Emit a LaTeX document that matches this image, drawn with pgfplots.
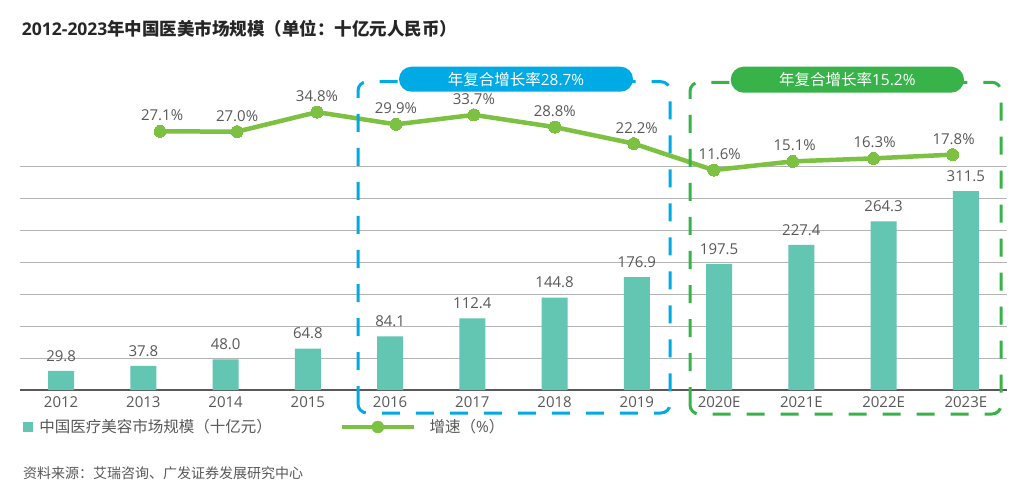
\documentclass[border=0pt]{standalone}
\usepackage{fontspec}
\setmainfont{Open Sans}
\newfontfamily\cjk{Noto Sans CJK SC}
\usepackage{pgfplots}
\pgfplotsset{compat=1.18}

\definecolor{barcol}{HTML}{62C6B2}
\definecolor{linecol}{HTML}{7DC143}
\definecolor{bluebox}{HTML}{00AAE4}
\definecolor{greenbox}{HTML}{38B34A}
\definecolor{txt}{HTML}{595959}
\definecolor{titlec}{HTML}{262626}
\definecolor{gridc}{HTML}{B4B4B4}
\definecolor{basec}{HTML}{595959}

\newcommand{\fs}[1]{\fontsize{#1}{#1}\selectfont}

\begin{document}
\begin{tikzpicture}
\path[use as bounding box] (0,0) rectangle (1024pt,493pt);
\fill[white] (0,0) rectangle (1024pt,493pt);

% market size (bars)
\begin{axis}[
  at={(20pt,103pt)}, anchor=south west,
  scale only axis, width=987pt, height=290pt,
  xmin=-0.5, xmax=11.5, ymin=0, ymax=454.5,
  clip=false,
  axis x line*=bottom, axis y line*=left,
  x axis line style={-, draw=basec, line width=2pt},
  y axis line style={draw=none},
  xtick={0,...,11},
  xticklabels={2012,2013,2014,2015,2016,2017,2018,2019,2020E,2021E,2022E,2023E},
  xticklabel style={anchor=base, yshift=-17pt, font=\fs{15pt}, text=txt},
  ytick={50,100,...,350}, yticklabels={},
  major tick length=0pt,
  ymajorgrids, grid style={gridc, line width=1pt},
  /pgf/number format/assume math mode=true,
  legend columns=2,
  legend cell align=left,
  legend style={at={(0.00334,-0.1276)}, anchor=west, draw=none, fill=none,
    font=\fs{15.5pt}, text=txt, inner sep=0pt,
    nodes={inner xsep=0pt, inner ysep=2pt},
    /tikz/every even column/.append style={column sep=68pt}},
]
\addplot[ybar, bar width=26pt, fill=barcol, draw=none,
  nodes near coords={\pgfmathprintnumber[fixed,fixed zerofill,precision=1]{\pgfplotspointmeta}},
  nodes near coords style={font=\fs{15pt}, text=txt, yshift=6pt},
  legend image code/.code={\fill[barcol] (0pt,-5pt) rectangle (10pt,5pt);}]
  coordinates {
  (0,29.8) (1,37.8) (2,48.0) (3,64.8) (4,84.1) (5,112.4)
  (6,144.8) (7,176.9) (8,197.5) (9,227.4) (10,264.3) (11,311.5)
};
\addlegendentry{\hspace{6pt}{\cjk 中国医疗美容市场规模（十亿元）}}
\addlegendimage{legend image code/.code={
  \draw[linecol, line width=4pt] (0pt,0pt) -- (71.6pt,0pt);
  \fill[linecol] (35.8pt,0pt) circle (6pt);}}
\addlegendentry{\hspace{14pt}{\cjk 增速（}\%{\cjk ）}}
\end{axis}

% growth rate (line)
\begin{axis}[
  at={(20pt,103pt)}, anchor=south west,
  scale only axis, width=987pt, height=290pt,
  xmin=-0.5, xmax=11.5, ymin=-76.35, ymax=39.65,
  hide axis, clip=false,
  /pgf/number format/assume math mode=true,
]
\addplot[linecol, line width=4.5pt, line join=round,
  mark=*, mark size=6pt, mark options={solid, line width=0pt, fill=linecol},
  visualization depends on={value \thisrow{dx} \as \dx},
  nodes near coords={\pgfmathprintnumber[fixed,fixed zerofill,precision=1]{\pgfplotspointmeta}\%},
  nodes near coords style={font=\fs{15pt}, text=txt, yshift=7pt, xshift=\dx pt}]
  table[x=x, y=y] {
  x      y     dx
  1.203  27.1  2
  2.139  27.0  0
  3.111  34.8  0
  4.070  29.9  0
  5.018  33.7  0
  6.002  28.8  0
  6.962  22.2  3
  7.934  11.6  6
  8.894  15.1  2
  9.878  16.3  1
  10.838 17.8  1
};
\end{axis}

% CAGR boxes
\draw[bluebox, line width=3pt, dash pattern=on 18pt off 16pt, rounded corners=9pt]
  (358pt,80pt) rectangle (670pt,411.3pt);
\fill[bluebox, rounded corners=12.5pt] (399pt,401.3pt) rectangle (633pt,426.3pt);
\node[text=white, font=\fs{15.5pt}, inner sep=0pt] at (516pt,413.8pt) {{\cjk 年复合增长率}28.7\%};

\draw[greenbox, line width=3pt, dash pattern=on 18pt off 16pt, rounded corners=9pt]
  (690pt,79pt) rectangle (1001pt,410.7pt);
\fill[greenbox, rounded corners=13pt] (730.7pt,400.3pt) rectangle (964pt,426.3pt);
\node[text=white, font=\fs{15.5pt}, inner sep=0pt] at (847.3pt,413.3pt) {{\cjk 年复合增长率}15.2\%};

% title and source
\node[anchor=west, inner sep=0pt, font=\fs{17.5pt}\bfseries, text=titlec] at (21.7pt,464.7pt)
  {2012-2023{\cjk 年中国医美市场规模（单位：十亿元人民币）}};
\node[anchor=west, inner sep=0pt, font=\fs{14pt}, text=txt] at (23pt,19.7pt)
  {\cjk 资料来源：艾瑞咨询、广发证券发展研究中心};
\end{tikzpicture}
\end{document}
